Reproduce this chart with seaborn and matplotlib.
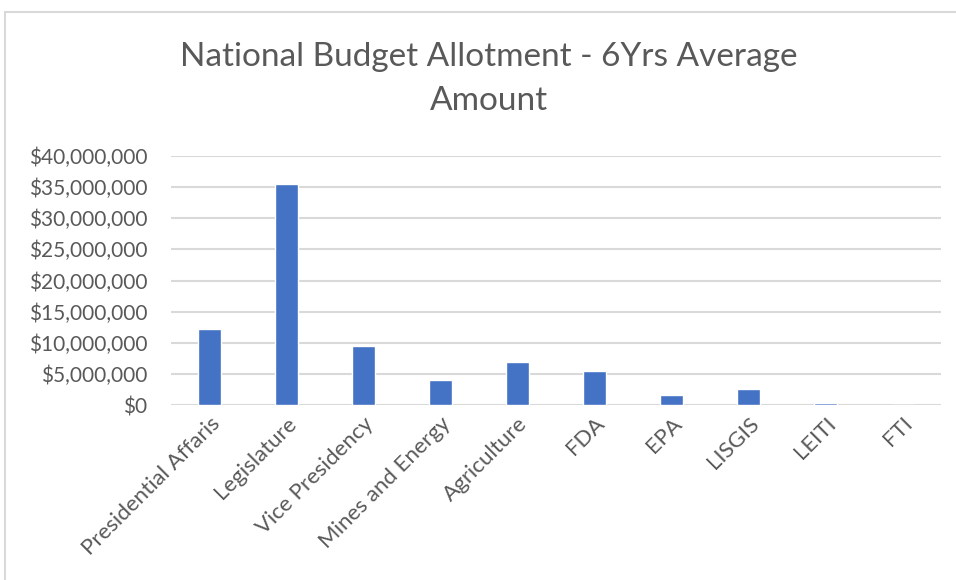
import matplotlib
matplotlib.use("Agg")
import matplotlib.pyplot as plt
import matplotlib.ticker as mticker
from matplotlib.patches import Rectangle
import seaborn as sns
import pandas as pd

categories = ["Presidential Affaris", "Legislature", "Vice Presidency", "Mines and Energy",
              "Agriculture", "FDA", "EPA", "LISGIS", "LEITI", "FTI"]
amounts = [12200000, 35450000, 9550000, 3950000, 6850000, 5450000, 1650000, 2600000, 350000, 30000]

df = pd.DataFrame({"Category": categories, "Amount": amounts})

sns.set_theme(style="white")
plt.rcParams["font.family"] = ["Lato", "DejaVu Sans"]

fig = plt.figure(figsize=(9.56, 5.8), dpi=100)
ax = fig.add_axes([171/956, 1-405/580, (941-171)/956, (405-156)/580])

sns.barplot(data=df, x="Category", y="Amount", color="#4472C4", width=0.3,
            saturation=1, ax=ax, zorder=3)

ax.set_ylim(0, 40000000)
ax.set_xlim(-0.5, len(categories) - 0.5)
ax.yaxis.set_major_locator(mticker.MultipleLocator(5000000))
ax.yaxis.set_major_formatter(mticker.FuncFormatter(lambda v, p: f"${v:,.0f}"))
ax.grid(axis="y", color="#d9d9d9", linewidth=1.5, zorder=0)
ax.set_axisbelow(True)
for s in ax.spines.values():
    s.set_visible(False)
ax.set_xlabel("")
ax.set_ylabel("")
ax.tick_params(axis="y", length=0, pad=17, labelsize=15, labelcolor="#595959")
ax.tick_params(axis="x", length=0, pad=6, labelsize=16, labelcolor="#595959")
for lbl in ax.get_xticklabels():
    lbl.set_rotation(45)
    lbl.set_ha("right")
    lbl.set_rotation_mode("anchor")

fig.text(489/956, 1-57/580, "National Budget Allotment - 6Yrs Average", ha="center", va="center",
         fontsize=24, color="#595959")
fig.text(489/956, 1-101/580, "Amount", ha="center", va="center", fontsize=24, color="#595959")

fig.patches.append(Rectangle((4.5/956, -0.05), 1.0, 1 - 12/580 + 0.05, transform=fig.transFigure,
                             fill=False, edgecolor="#d9d9d9", linewidth=1.5))

fig.savefig("out.png", dpi=100)
